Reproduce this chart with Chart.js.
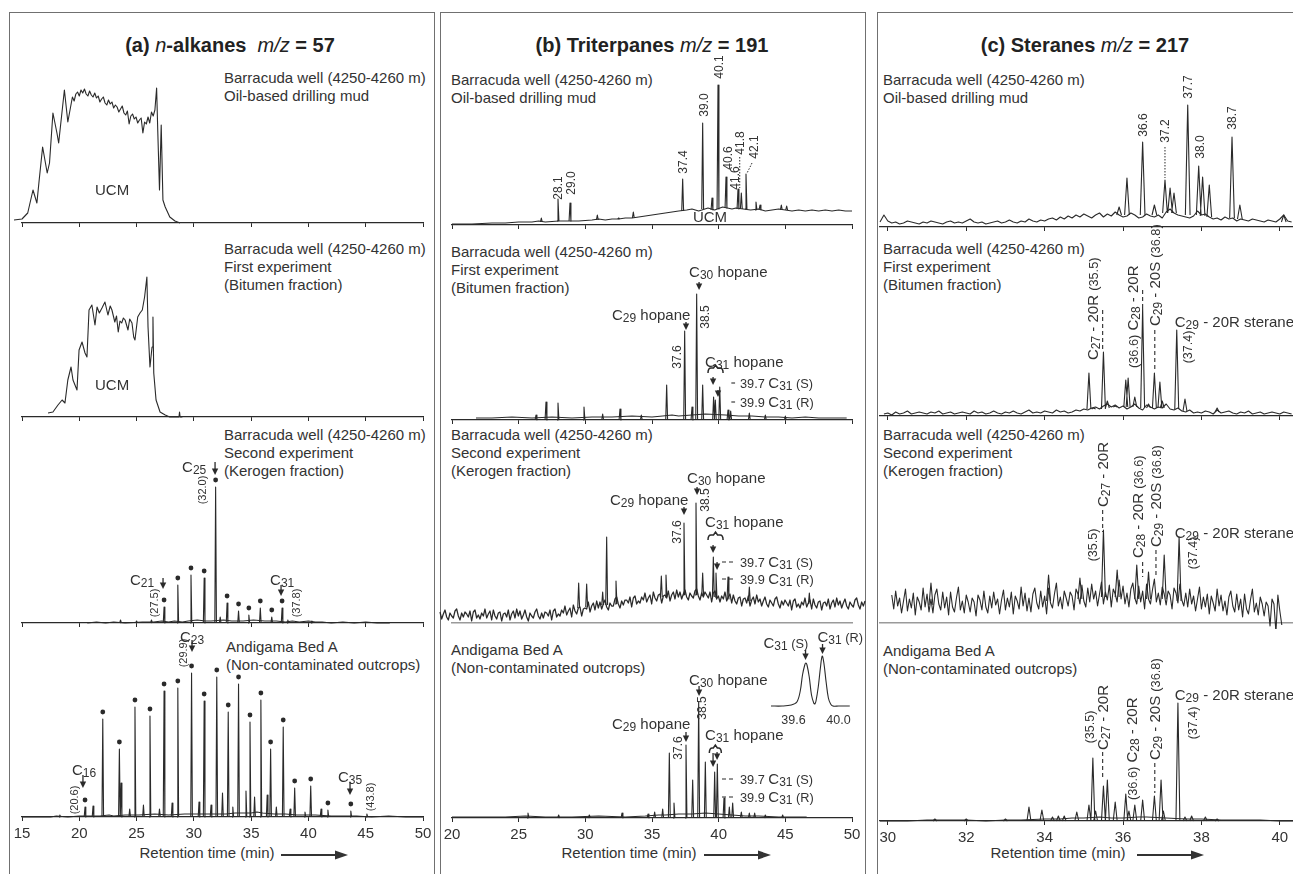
<!DOCTYPE html>
<html><head><meta charset="utf-8">
<script src="https://cdn.jsdelivr.net/npm/chart.js@4.4.1/dist/chart.umd.min.js"></script>
<style>
html,body{margin:0;padding:0;background:#fff}
body{width:1293px;height:874px;position:relative;overflow:hidden;font-family:"Liberation Sans",Arial,sans-serif;color:#333}
.panel{position:absolute;top:12px;height:900px;border:1.5px solid #707070;box-sizing:border-box}
.title{position:absolute;top:33px;font-size:20px;line-height:24px;white-space:nowrap;transform:translateX(-50%);color:#222}
.desc{position:absolute;font-size:15px;line-height:18px;white-space:nowrap;color:#333}
.xt{position:absolute;top:844px;font-size:15px;line-height:18px;white-space:nowrap;transform:translateX(-50%);color:#333}
svg.arr{position:absolute;top:850px}
canvas{position:absolute}
</style></head><body>
<div class="panel" style="left:9px;width:426px"></div>
<div class="panel" style="left:440px;width:426px"></div>
<div class="panel" style="left:877px;width:430px"></div>

<div class="title" style="left:230px"><b>(a)</b> <i>n</i><b>-alkanes</b>&nbsp; <i>m/z</i> <b>= 57</b></div>
<div class="title" style="left:652px"><b>(b) Triterpanes</b> <i>m/z</i> <b>= 191</b></div>
<div class="title" style="left:1085px"><b>(c) Steranes</b> <i>m/z</i> <b>= 217</b></div>

<div class="desc" style="left:224px;top:69px">Barracuda well (4250-4260 m)<br>Oil-based drilling mud</div>
<div class="desc" style="left:224px;top:240px">Barracuda well (4250-4260 m)<br>First experiment<br>(Bitumen fraction)</div>
<div class="desc" style="left:224px;top:426px">Barracuda well (4250-4260 m)<br>Second experiment<br>(Kerogen fraction)</div>
<div class="desc" style="left:226px;top:638px">Andigama Bed A<br>(Non-contaminated outcrops)</div>

<div class="desc" style="left:451px;top:71px">Barracuda well (4250-4260 m)<br>Oil-based drilling mud</div>
<div class="desc" style="left:451px;top:243px">Barracuda well (4250-4260 m)<br>First experiment<br>(Bitumen fraction)</div>
<div class="desc" style="left:451px;top:426px">Barracuda well (4250-4260 m)<br>Second experiment<br>(Kerogen fraction)</div>
<div class="desc" style="left:451px;top:641px">Andigama Bed A<br>(Non-contaminated outcrops)</div>

<div class="desc" style="left:883px;top:71px">Barracuda well (4250-4260 m)<br>Oil-based drilling mud</div>
<div class="desc" style="left:883px;top:240px">Barracuda well (4250-4260 m)<br>First experiment<br>(Bitumen fraction)</div>
<div class="desc" style="left:883px;top:426px">Barracuda well (4250-4260 m)<br>Second experiment<br>(Kerogen fraction)</div>
<div class="desc" style="left:883px;top:642px">Andigama Bed A<br>(Non-contaminated outcrops)</div>

<div class="xt" style="left:207px">Retention time (min)</div>
<div class="xt" style="left:629px">Retention time (min)</div>
<div class="xt" style="left:1058px">Retention time (min)</div>
<svg class="arr" style="left:281px" width="68" height="10"><line x1="0" y1="5" x2="56" y2="5" stroke="#333" stroke-width="2"/><polygon points="54,0.5 67,5 54,9.5" fill="#333"/></svg>
<svg class="arr" style="left:704px" width="68" height="10"><line x1="0" y1="5" x2="56" y2="5" stroke="#333" stroke-width="2"/><polygon points="54,0.5 67,5 54,9.5" fill="#333"/></svg>
<svg class="arr" style="left:1137px" width="68" height="10"><line x1="0" y1="5" x2="56" y2="5" stroke="#333" stroke-width="2"/><polygon points="54,0.5 67,5 54,9.5" fill="#333"/></svg>

<script>
// ================= DATA =================
// ---- Panel (a) n-alkanes m/z 57 ----
const aTicks = [15, 20, 25, 30, 35, 40, 45, 50];
const aMudTime = [14.3,15.0,15.5,15.96,16.3,16.5,16.8,17.2,17.4,17.7,18.05,18.2,18.7,19.0,19.4,19.55,19.7,19.85,20.0,20.15,20.3,20.45,20.6,20.75,20.9,21.05,21.2,21.35,21.5,21.65,21.8,21.95,22.1,22.25,22.4,22.55,22.7,22.85,23.0,23.15,23.3,23.45,23.6,23.75,23.9,24.05,24.2,24.35,24.5,24.65,24.8,24.95,25.1,25.25,25.4,25.55,25.7,25.85,26.0,26.15,26.3,26.45,26.6,26.75,26.85,27.0,27.15,27.3,27.5,27.9,28.35,28.8];
const aMudSignal = [3,4,10,33,20,43,76,50,60,110,90,80,133,101,126,122,129,131,127,133,130,134,129,127,132,128,126,130,125,127,121,124,126,120,118,123,119,121,115,118,116,111,114,117,110,108,112,99,107,109,104,106,100,103,105,90,101,99,106,100,111,107,113,135,92,33,98,23,16,6,2,0];

const aBitTime = [17.27,17.7,18.14,18.5,18.75,19.0,19.28,19.45,19.8,19.98,20.24,20.5,20.67,20.85,21.1,21.37,21.55,21.75,21.98,22.24,22.5,22.7,22.85,23.1,23.25,23.4,23.55,23.7,23.85,24.0,24.25,24.4,24.6,24.75,24.86,25.1,25.3,25.5,25.7,25.9,26.0,26.17,26.35,26.43,26.5,26.7,27.05,27.5,27.9,28.7,28.75,28.8,29.0];
const aBitSignal = [4,5,12,17,14,37,50,37,27,67,75,64,60,107,112,92,110,104,109,115,102,111,107,95,101,85,96,94,99,97,87,98,94,80,77,100,104,107,120,140,90,50,70,100,44,17,5,2,0,0,5,0,0];

const aKerBaseTime = [20.7,21.5,22.3,23.0,24.0,25.5,26.5,27.2,27.8,28.3,29.0,29.5,30.3,31.0,31.5,32.6,33.3,34.3,35.2,36.2,37.2,38.0,38.6,39.2,40.0,40.6,41.2,42.0,43.0,44.0,45.0,46.0,47.1];
const aKerBaseSignal = [0,1,0,1,0,1,1,2,1,2,1,2,3,2,2,3,2,2,3,2,2,1,2,1,2,1,1,0,1,0,1,0,0];
const aKerPeakTime = [23.6,25.0,26.3,27.4,28.6,29.75,30.9,31.9,32.3,32.9,33.9,34.8,35.8,36.8,37.7,38.2,40.3];
const aKerPeakHeight = [3,2,3,16,38,48,45,136,6,20,12,8,15,6,15,3,2];
const aKerAlkaneTime = [27.4,28.6,29.75,30.9,31.9,32.9,33.9,34.8,35.8,36.8,37.7];
const aKerAlkaneHeight = [16,38,48,45,136,20,12,8,15,6,15];

const aOutBaseTime = [15,17.5,18.0,19.0,20.0,21.8,22.6,23.0,24.0,25.2,26.6,27.8,29.2,30.2,31.2,32.8,33.6,34.3,35.0,35.5,36.0,37.0,38.0,39.0,39.5,40.6,42.0,43.0,44.2,45.5,47.0,48.5,50];
const aOutBaseSignal = [0,0,1,0,1,1,2,1,2,2,3,2,3,3,3,3,4,4,4,5,4,3,3,2,2,2,1,1,1,0,1,0,0];
const aOutPeakTime = [18.3,20.5,21.2,22.05,23.5,23.65,24.4,24.86,25.6,26.17,27.0,27.4,28.1,28.6,29.8,30.45,30.9,31.5,32.0,32.5,33.0,33.4,33.9,34.55,34.9,35.3,35.85,36.4,36.7,37.2,37.8,38.4,38.8,39.7,40.2,41.1,41.7,43.7,45.1];
const aOutPeakHeight = [2,10,11,98,68,34,8,110,12,101,8,126,14,129,144,15,116,12,140,24,105,10,133,26,95,20,117,22,68,10,90,8,29,5,31,8,7,6,3];
const aOutAlkaneTime = [20.5,22.05,23.5,24.86,26.17,27.4,28.6,29.8,30.9,32.0,33.0,33.9,34.9,35.85,36.7,37.8,38.8,40.2,41.7,43.7];
const aOutAlkaneHeight = [10,98,68,110,101,126,129,144,116,140,105,133,95,117,68,90,29,31,7,6];

// ---- Panel (b) triterpanes m/z 191 ----
const bTicks = [20, 25, 30, 35, 40, 45, 50];
const bMudBaseTime = [20.0,21.5,23.0,24.0,25.0,26.0,26.5,27.0,28.0,29.5,30.5,31.0,31.5,32.0,32.5,33.0,33.5,34.0,34.5,35.0,35.5,36.0,36.5,37.0,37.6,38.0,38.5,39.2,39.7,40.3,41.0,41.3,42.4,43.0,43.5,44.0,44.5,45.0,45.5,46.0,46.5,47.0,47.5,48.0,48.5,49.0,49.5,50.0];
const bMudBaseSignal = [1,1,2,2,3,3,4,3,4,4,5,6,5,6,6,7,7,8,9,10,11,12,13,14,15,16,14,17,15,18,16,17,15,16,14,15,16,15,14,15,14,15,14,15,14,15,14,14];
const bMudPeakTime = [26.7,27.95,28.85,30.9,32.5,33.6,37.3,38.8,39.5,39.95,40.55,41.45,41.7,42.05,42.8,43.1,44.7,45.1];
const bMudPeakHeight = [7,26,22,10,7,13,46,102,27,140,48,36,32,51,23,20,20,19];
const bMudPeakBase = [3,4,4,5,6,7,14,16,15,16,17,16,16,16,15,15,15,15];

const bBitBaseTime = [21.8,23.0,24.5,26.0,27.5,29.0,30.5,32.0,33.5,35.0,35.8,36.5,37.0,38.0,39.0,40.5,41.5,42.5,43.5,44.5,45.5,46.5,47.5,48.5,49.6];
const bBitBaseSignal = [2,2,3,2,3,2,3,3,4,3,4,5,4,5,6,5,4,4,3,3,2,3,2,2,2];
const bBitPeakTime = [26.3,27.05,27.95,29.9,31.3,32.6,34.2,36.1,37.45,38.0,38.35,38.8,39.62,39.75,40.08,40.7,40.9,42.3,43.5,45.0];
const bBitPeakHeight = [5,18,17,13,6,11,5,35,89,13,126,35,23,20,33,10,9,7,5,4];

const bKerStart = 19.1, bKerStep = 0.125;
const bKerSignal = [
  11,4,9,13,6,3,10,7,  5,12,14,7,3,10,6,11,  9,6,12,2,11,13,5,8,  4,10,7,14,5,9,12,3,
  13,7,4,10,11,2,9,10,  6,13,3,9,12,5,14,7,  12,4,8,13,6,2,10,7,  5,11,14,7,4,10,5,11,
  10,7,13,3,12,14,6,9,  7,13,10,17,8,12,15,6,  18,12,9,15,16,7,14,15,  14,21,11,17,20,13,22,15,
  21,14,19,23,16,13,20,17,  17,24,26,19,15,22,18,23,  23,20,26,16,25,27,19,22,  20,26,23,30,21,25,28,19,
  31,25,22,28,29,20,27,28,  25,32,22,28,31,24,33,26,  31,24,29,33,26,23,30,27,  25,32,34,27,23,30,26,31,
  28,25,31,21,30,32,24,27,  21,27,24,31,22,26,29,20,  28,22,19,25,26,17,24,25,  20,27,17,23,26,19,28,21,
  24,17,22,26,19,16,23,20,  17,24,26,19,15,22,18,23,  20,17,23,13,22,24,16,19,  15,21,18,25,16,20,23,14,
  24,18,15,21,22,13,20,21,  17,24,14,20,23,16,25,18,  22,15,20,24,17,14,21,18,  16,23,25,18,14,21,17,22];
const bKerPeakTime = [29.5,30.1,31.3,31.6,32.3,35.7,36.05,37.4,38.3,38.8,39.6,39.8,40.7,42.3,46.8];
const bKerPeakHeight = [40,39,31,86,42,47,48,100,120,50,66,50,46,36,30];
const bKerPeakBase = [15,16,18,18,19,26,26,28,28,27,26,26,24,22,19];

const bOutBaseTime = [20.0,22.0,24.0,25.5,27.0,29.0,31.0,33.0,34.5,35.5,36.0,37.0,38.0,39.0,40.0,41.0,42.0,43.0,44.5,46.6];
const bOutBaseSignal = [1,1,1,2,1,1,2,1,2,3,3,4,4,5,4,3,2,2,1,1];
const bOutPeakTime = [25.7,28.0,30.3,32.75,34.7,35.2,35.8,36.3,36.65,37.55,38.05,38.5,39.0,39.7,39.9,40.4,40.8,41.05,41.7,42.3,42.7,43.5,44.8];
const bOutPeakHeight = [5,3,3,5,4,6,9,65,15,73,38,116,56,46,54,20,11,15,6,5,5,3,3];

const insetTicks = [39.6, 40.0];
const insetTime = [39.40,39.50,39.58,39.63,39.66,39.68,39.70,39.71,39.72,39.74,39.76,39.78,39.79,39.80,39.82,39.84,39.855,39.87,39.89,39.91,39.93,39.95,40.0,40.1];
const insetSignal = [1,1,2,5,16,32,42,44,42,30,12,4,3,6,20,40,51,44,25,9,3,1,1,1];

// ---- Panel (c) steranes m/z 217 ----
const cTicks = [30, 32, 34, 36, 38, 40];
const cMudStart = 29.8, cMudStep = 0.1;
const cMudSignal = [5,12,6,4,5,3,4,6,5,4, 3,5,4,6,5,4,3,5,6,4, 5,4,6,8,5,4,5,3,4,5, 6,4,5,7,5,4,6,5,8,6,
  5,7,6,8,9,7,10,8,11,9, 12,10,13,11,9,12,14,10,13,11, 15,12,10,11,14,12,9,10,13,11, 10,12,9,15,18,14,12,11,10,9,
  11,16,12,13,10,8,9,7,10,8, 9,6,8,7,6,8,7,6,5,7, 6,5,8,12,6,5];
const cMudPeakTime = [35.9,36.1,36.5,36.8,37.07,37.2,37.3,37.65,37.93,38.03,38.2,38.78,38.98,40.1];
const cMudPeakHeight = [20,49,85,22,47,39,34,122,61,50,42,90,22,12];
const cMudPeakBase = [12,12,12,12,14,14,14,12,12,11,10,9,8,5];

const cBitStart = 29.9, cBitStep = 0.1;
const cBitSignal = [2,3,1,4,2,3,5,2,3,4, 3,2,4,3,5,2,3,4,2,3, 4,3,2,5,3,4,2,3,5,3, 2,4,3,5,3,2,4,6,3,4,
  3,5,4,3,6,4,5,3,4,6, 5,7,6,8,9,7,10,12,9,11, 8,10,7,9,12,8,6,11,9,7, 9,8,12,7,6,8,5,4,6,3,
  4,3,5,4,2,6,3,4,5,3, 2,4,3,5,2,3,4,2,3,4, 3,2,4,3,2];
const cBitPeakTime = [35.13,35.25,35.5,35.6,35.8,36.07,36.13,36.3,36.5,36.65,36.8,36.94,37.0,37.37,37.58,38.4];
const cBitPeakHeight = [43,8,64,15,10,36,38,19,108,12,43,34,15,86,17,8];
const cBitPeakBase = [7,7,7,8,9,9,9,9,8,8,8,8,8,7,5,4];

const cKerStart = 30.1, cKerStep = 0.05;
const cKerSignal = [
  28,14,32,17,25,10,22,34,12,24,  15,30,8,26,21,13,35,16,29,11,  24,10,28,34,19,13,31,15,26,8,  31,16,11,25,36,13,22,10,28,21,
  11,25,21,7,28,23,13,32,16,10,  27,15,31,18,24,9,23,33,13,25,  16,31,9,27,22,14,36,17,30,12,  25,11,29,35,20,14,32,16,27,9,
  35,20,15,29,40,17,26,14,32,25,  17,31,27,13,34,29,19,38,22,16,  35,21,39,24,32,17,29,41,19,31,  23,38,16,34,29,21,43,24,37,19,
  30,16,34,40,25,19,37,21,32,14,  39,24,19,33,44,21,30,18,36,29,  18,32,28,14,35,30,20,39,23,17,  30,16,34,19,27,12,24,36,14,26,
  16,29,9,27,20,12,34,17,28,12,  22,8,26,32,17,11,29,13,24,6,  29,14,9,23,34,11,20,8,26,19,  7,21,17,-3,24,19,-9,28,12,-2];
const cKerPeakTime = [31.1,34.1,34.9,35.5,35.85,36.35,36.65,37.05,37.43];
const cKerPeakHeight = [40,48,45,93,53,58,51,68,86];
const cKerPeakBase = [18,22,24,26,26,24,24,24,22];

const cOutBaseTime = [29.8,30.5,31.0,31.5,32.0,32.5,33.0,33.4,34.0,34.4,34.7,35.0,35.4,35.7,36.0,36.4,36.6,37.1,37.6,38.0,38.5,39.0,39.5,40.0,40.4];
const cOutBaseSignal = [0,0,1,1,1,0,1,1,2,2,3,3,4,3,3,4,4,3,2,2,1,1,1,0,0];
const cOutPeakTime = [31.2,32.0,33.0,33.6,33.93,34.2,34.35,34.5,34.82,35.13,35.23,35.3,35.5,35.6,35.8,36.07,36.15,36.3,36.5,36.8,36.97,37.03,37.4,37.58,37.75,38.1,38.4];
const cOutPeakHeight = [2,2,2,14,11,4,5,5,9,16,63,10,35,41,19,27,10,16,21,25,41,10,118,4,5,4,2];

// ================= DRAWING =================
const FONT = '"Liberation Sans", Arial, sans-serif';
const INK = '#2a2a2a', TXT = '#333', GREY_AXIS = '#9a9a9a';
const PADX = 18, PADT = 60, DOT_GAP = 7;
Chart.defaults.font.family = FONT;
const fnt = sz => sz + 'px ' + FONT;

const pairs = (t, v) => t.map((x, i) => ({x, y: v[i]}));
const sampled = (start, step, v) => v.map((y, i) => ({x: +(start + i * step).toFixed(3), y}));
function spikes(times, heights, bases, hw) {
  const out = [];
  times.forEach((t, i) => {
    const b = bases ? bases[i] : 0;
    out.push({x: t - hw, y: b}, {x: t, y: heights[i]}, {x: t + hw, y: b}, {x: t + hw, y: null});
  });
  return out;
}
const trace = (data, extra) => Object.assign({data}, extra || {});
const dots = (t, h) => ({data: t.map((x, i) => ({x, y: h[i] + DOT_GAP})), showLine: false,
  pointRadius: 2.4, pointBackgroundColor: INK, pointBorderWidth: 0});

function richSegs(s, size) {
  const out = []; const re = /(_|~)\{([^}]*)\}/g; let last = 0, m;
  while ((m = re.exec(s))) {
    if (m.index > last) out.push({t: s.slice(last, m.index), sz: size, dy: 0});
    out.push(m[1] === '_' ? {t: m[2], sz: size * 0.8, dy: size * 0.1} : {t: m[2], sz: size * 0.85, dy: 0});
    last = re.lastIndex;
  }
  if (last < s.length) out.push({t: s.slice(last), sz: size, dy: 0});
  return out;
}
function drawRich(ctx, s, size, x, y, align) {
  const segs = richSegs(s, size); let w = 0;
  segs.forEach(g => { ctx.font = fnt(g.sz); g.w = ctx.measureText(g.t).width; w += g.w; });
  let cx = align === 'center' ? x - w / 2 : x;
  const by = y + size * 0.36;
  ctx.textBaseline = 'alphabetic'; ctx.textAlign = 'left';
  segs.forEach(g => { ctx.font = fnt(g.sz); ctx.fillText(g.t, cx, by + g.dy); cx += g.w; });
}
function notesPlugin(notes) {
  return {
    id: 'notes',
    afterDatasetsDraw(chart) {
      const ctx = chart.ctx, xs = chart.scales.x, ys = chart.scales.y;
      const X = v => xs.getPixelForValue(v), Y = v => ys.getPixelForValue(v);
      ctx.save();
      ctx.fillStyle = TXT; ctx.strokeStyle = INK; ctx.lineCap = 'butt';
      notes.forEach(n => {
        if (n.t === 'text') {
          const size = n.size || 15;
          if (n.rot) {
            ctx.save(); ctx.translate(X(n.x), Y(n.y)); ctx.rotate(-Math.PI / 2);
            drawRich(ctx, n.s, size, 0, 0, n.align || 'left'); ctx.restore();
          } else drawRich(ctx, n.s, size, X(n.x), Y(n.y), n.align || 'left');
        } else if (n.t === 'arrow') {
          const px = X(n.x), y1 = Y(n.y1), y2 = Y(n.y2);
          ctx.lineWidth = 1.3; ctx.setLineDash([]);
          ctx.beginPath(); ctx.moveTo(px, y1); ctx.lineTo(px, y2 - 5); ctx.stroke();
          ctx.fillStyle = INK; ctx.beginPath(); ctx.moveTo(px - 3.2, y2 - 6.5); ctx.lineTo(px + 3.2, y2 - 6.5); ctx.lineTo(px, y2); ctx.closePath(); ctx.fill();
          ctx.fillStyle = TXT;
        } else if (n.t === 'dash') {
          ctx.lineWidth = n.w || 1.1; ctx.setLineDash(n.pat || [4, 3]);
          ctx.beginPath(); ctx.moveTo(X(n.x1), Y(n.y1)); ctx.lineTo(X(n.x2), Y(n.y2)); ctx.stroke();
          ctx.setLineDash([]);
        } else if (n.t === 'brace') {
          const p1 = X(n.x1), p2 = X(n.x2), pm = (p1 + p2) / 2, py = Y(n.y);
          ctx.lineWidth = 1.5; ctx.setLineDash([]);
          ctx.beginPath(); ctx.moveTo(p1, py + 5); ctx.quadraticCurveTo(p1, py, p1 + 3, py);
          ctx.lineTo(pm - 2, py); ctx.lineTo(pm, py - 3); ctx.lineTo(pm + 2, py); ctx.lineTo(p2 - 3, py);
          ctx.quadraticCurveTo(p2, py, p2, py + 5); ctx.stroke();
        }
      });
      ctx.restore();
    }
  };
}

function makeChart(spec) {
  const cv = document.createElement('canvas');
  const axH = spec.axH || 6;
  const plotH = spec.basePx - spec.topPx;
  const w = Math.round((spec.x1 - spec.x0) + 2 * PADX);
  const h = plotH + PADT + axH;
  cv.width = w; cv.height = h;
  cv.style.left = (spec.x0 - PADX) + 'px';
  cv.style.top = (spec.topPx - PADT) + 'px';
  cv.style.width = w + 'px'; cv.style.height = h + 'px';
  document.body.appendChild(cv);
  const datasets = spec.series.map(s => Object.assign({
    type: 'line', borderColor: INK, borderWidth: 1.1, pointRadius: 0, tension: 0, clip: false,
    spanGaps: false, fill: false, borderJoinStyle: 'round'
  }, s));
  const axisColor = spec.axisColor || INK;
  new Chart(cv, {
    type: 'line',
    data: {datasets},
    options: {
      responsive: false, animation: false, events: [],
      layout: {padding: {left: PADX, right: (w - PADX) - (spec.x1 - spec.x0), top: PADT, bottom: 0}},
      plugins: {legend: {display: false}, tooltip: {enabled: false}},
      scales: {
        x: {
          type: 'linear', bounds: 'data',
          afterDataLimits: s => { s.min = spec.xmin; s.max = spec.xmax; },
          afterBuildTicks: s => { s.ticks = spec.ticks.map(v => ({value: v})); },
          afterFit: s => { s.height = axH; },
          grid: {display: spec.tickMarks !== false, drawOnChartArea: false, drawTicks: true, tickLength: 4, color: axisColor, lineWidth: 1},
          border: {display: spec.axisLine !== false, color: axisColor, width: spec.axisWidth || 1.2},
          ticks: {display: !!spec.labels, font: {size: spec.labelSize || 15, family: FONT}, color: TXT,
            padding: spec.labelPad != null ? spec.labelPad : 4, maxRotation: 0, minRotation: 0, autoSkip: false,
            callback: spec.fmt || (v => v)}
        },
        y: {display: false, min: 0, max: plotH}
      }
    },
    plugins: [notesPlugin(spec.notes || [])]
  });
}

const hopaneNotes = (c30, c29, n385, n376, c31, brace, arrS, arrR, sY, rY, dashFrom) => [
  {t: 'text', x: c30[0], y: c30[1], s: 'C_{30} hopane'},
  {t: 'arrow', x: c30[2], y1: c30[3], y2: c30[4]},
  {t: 'text', x: c29[0], y: c29[1], s: 'C_{29} hopane'},
  {t: 'arrow', x: c29[2], y1: c29[3], y2: c29[4]},
  {t: 'text', x: n385[0], y: n385[1], s: '38.5', size: 12, rot: true, align: 'center'},
  {t: 'text', x: n376[0], y: n376[1], s: '37.6', size: 12, rot: true, align: 'center'},
  {t: 'text', x: c31[0], y: c31[1], s: 'C_{31} hopane'},
  {t: 'brace', x1: brace[0], x2: brace[1], y: brace[2]},
  {t: 'arrow', x: arrS[0], y1: arrS[1], y2: arrS[2]},
  {t: 'arrow', x: arrR[0], y1: arrR[1], y2: arrR[2]},
  {t: 'dash', x1: dashFrom, y1: sY, x2: 41.23, y2: sY},
  {t: 'text', x: 41.6, y: sY, s: '~{39.7 }C_{31}~{ (S)}'},
  {t: 'dash', x1: dashFrom, y1: rY, x2: 41.23, y2: rY},
  {t: 'text', x: 41.6, y: rY, s: '~{39.9 }C_{31}~{ (R)}'}
];

const A = {x0: 22, x1: 423, xmin: 15, xmax: 50, ticks: aTicks};
const B = {x0: 452, x1: 852, xmin: 20, xmax: 50, ticks: bTicks};
const C = {x0: 880.16, x1: 1295.68, xmin: 29.8, xmax: 40.4, ticks: cTicks};

const specs = [
  // ---- (a) ----
  Object.assign({}, A, {topPx: 60, basePx: 223, series: [trace(pairs(aMudTime, aMudSignal))],
    notes: [{t: 'text', x: 22.86, y: 33, s: 'UCM', align: 'center'}]}),
  Object.assign({}, A, {topPx: 250, basePx: 417, series: [trace(pairs(aBitTime, aBitSignal))],
    notes: [{t: 'text', x: 22.86, y: 32, s: 'UCM', align: 'center'}]}),
  Object.assign({}, A, {topPx: 440, basePx: 623, series: [
      trace(pairs(aKerBaseTime, aKerBaseSignal)),
      trace(spikes(aKerPeakTime, aKerPeakHeight, null, 0.07)),
      dots(aKerAlkaneTime, aKerAlkaneHeight)],
    notes: [
      {t: 'text', x: 24.43, y: 43, s: 'C_{21}'}, {t: 'arrow', x: 27.31, y1: 45, y2: 34},
      {t: 'text', x: 26.52, y: 20, s: '(27.5)', size: 11, rot: true, align: 'center'},
      {t: 'text', x: 28.97, y: 156, s: 'C_{25}'}, {t: 'arrow', x: 31.85, y1: 161, y2: 148},
      {t: 'text', x: 30.71, y: 133, s: '(32.0)', size: 11, rot: true, align: 'center'},
      {t: 'text', x: 36.65, y: 43, s: 'C_{31}'}, {t: 'arrow', x: 37.61, y1: 38, y2: 27},
      {t: 'text', x: 38.92, y: 20, s: '(37.8)', size: 11, rot: true, align: 'center'}]}),
  Object.assign({}, A, {topPx: 630, basePx: 817, axH: 40, labels: true, series: [
      trace(pairs(aOutBaseTime, aOutBaseSignal)),
      trace(spikes(aOutPeakTime, aOutPeakHeight, null, 0.07)),
      dots(aOutAlkaneTime, aOutAlkaneHeight)],
    notes: [
      {t: 'text', x: 28.79, y: 180, s: 'C_{23}'}, {t: 'arrow', x: 29.84, y1: 177, y2: 165},
      {t: 'text', x: 29.05, y: 164, s: '(29.9)', size: 11, rot: true, align: 'center'},
      {t: 'text', x: 19.36, y: 47, s: 'C_{16}'}, {t: 'arrow', x: 20.32, y1: 42, y2: 29},
      {t: 'text', x: 19.54, y: 17, s: '(20.6)', size: 11, rot: true, align: 'center'},
      {t: 'text', x: 42.58, y: 40, s: 'C_{35}'}, {t: 'arrow', x: 43.63, y1: 35, y2: 22},
      {t: 'text', x: 45.37, y: 20, s: '(43.8)', size: 11, rot: true, align: 'center'}]}),
  // ---- (b) ----
  Object.assign({}, B, {topPx: 60, basePx: 225, series: [
      trace(pairs(bMudBaseTime, bMudBaseSignal)),
      trace(spikes(bMudPeakTime, bMudPeakHeight, bMudPeakBase, 0.07))],
    notes: [
      {t: 'text', x: 27.95, y: 37, s: '28.1', size: 12, rot: true, align: 'center'},
      {t: 'text', x: 28.93, y: 42, s: '29.0', size: 12, rot: true, align: 'center'},
      {t: 'text', x: 37.33, y: 63, s: '37.4', size: 12, rot: true, align: 'center'},
      {t: 'text', x: 38.9, y: 120, s: '39.0', size: 12, rot: true, align: 'center'},
      {t: 'text', x: 40.03, y: 158, s: '40.1', size: 12, rot: true, align: 'center'},
      {t: 'text', x: 40.7, y: 67, s: '40.6', size: 12, rot: true, align: 'center'},
      {t: 'text', x: 41.23, y: 47, s: '41.6', size: 12, rot: true, align: 'center'},
      {t: 'text', x: 41.6, y: 82, s: '41.8', size: 12, rot: true, align: 'center'},
      {t: 'text', x: 42.65, y: 78, s: '42.1', size: 12, rot: true, align: 'center'},
      {t: 'dash', x1: 41.58, y1: 68, x2: 41.58, y2: 37, pat: [1.5, 1.5], w: 1},
      {t: 'dash', x1: 42.5, y1: 62, x2: 42.13, y2: 52, pat: [1.5, 1.5], w: 1},
      {t: 'text', x: 39.35, y: 8, s: 'UCM', align: 'center'}]}),
  Object.assign({}, B, {topPx: 250, basePx: 420, series: [
      trace(pairs(bBitBaseTime, bBitBaseSignal)),
      trace(spikes(bBitPeakTime, bBitPeakHeight, null, 0.07))],
    notes: hopaneNotes([37.78, 148, 38.53, 138, 130], [32.0, 105, 37.55, 98, 90], [38.98, 103], [36.88, 63],
      [38.98, 58], [39.2, 40.33, 52], [39.58, 43, 35], [39.95, 30, 23], 37, 18, 40.95)}),
  Object.assign({}, B, {topPx: 440, basePx: 623, axisColor: GREY_AXIS, tickMarks: false, axisWidth: 1.6, series: [
      trace(sampled(bKerStart, bKerStep, bKerSignal), {borderWidth: 1.25}),
      trace(spikes(bKerPeakTime, bKerPeakHeight, bKerPeakBase, 0.07))],
    notes: hopaneNotes([37.63, 145, 38.38, 136, 128], [31.85, 123, 37.4, 116, 108], [38.98, 123], [36.88, 91],
      [38.98, 101], [39.2, 40.33, 88], [39.58, 78, 70], [39.88, 61, 53], 61, 44, 40.25)}),
  Object.assign({}, B, {topPx: 630, basePx: 818, axH: 40, labels: true, series: [
      trace(pairs(bOutBaseTime, bOutBaseSignal)),
      trace(spikes(bOutPeakTime, bOutPeakHeight, null, 0.07))],
    notes: hopaneNotes([37.78, 138, 38.53, 132, 122], [32.0, 94, 37.55, 86, 76], [38.75, 110], [36.95, 70],
      [38.98, 83], [39.3, 40.2, 70], [39.58, 65, 51], [39.88, 66, 58], 39, 21, 40.25)}),
  // inset
  {x0: 770.5, x1: 849.25, xmin: 39.4, xmax: 40.1, ticks: insetTicks, topPx: 650, basePx: 707, axH: 20,
    labels: true, labelSize: 12.5, labelPad: 2, axisLine: false, tickMarks: false, fmt: v => v.toFixed(1),
    series: [trace(pairs(insetTime, insetSignal), {tension: 0.35})],
    notes: [
      {t: 'text', x: 39.333, y: 64, s: 'C_{31}~{ (S)}'}, {t: 'arrow', x: 39.707, y1: 57, y2: 47},
      {t: 'text', x: 39.813, y: 70, s: 'C_{31}~{ (R)}'}, {t: 'arrow', x: 39.858, y1: 63, y2: 53}]},
  // ---- (c) ----
  Object.assign({}, C, {topPx: 60, basePx: 227, series: [
      trace(sampled(cMudStart, cMudStep, cMudSignal)),
      trace(spikes(cMudPeakTime, cMudPeakHeight, cMudPeakBase, 0.06))],
    notes: [
      {t: 'text', x: 36.5, y: 102, s: '36.6', size: 12, rot: true, align: 'center'},
      {t: 'text', x: 37.07, y: 96, s: '37.2', size: 12, rot: true, align: 'center'},
      {t: 'dash', x1: 37.07, y1: 80, x2: 37.07, y2: 49, pat: [1.5, 1.5], w: 1},
      {t: 'text', x: 37.65, y: 140, s: '37.7', size: 12, rot: true, align: 'center'},
      {t: 'text', x: 37.96, y: 80, s: '38.0', size: 12, rot: true, align: 'center'},
      {t: 'text', x: 38.78, y: 109, s: '38.7', size: 12, rot: true, align: 'center'}]}),
  Object.assign({}, C, {topPx: 250, basePx: 416, series: [
      trace(sampled(cBitStart, cBitStep, cBitSignal)),
      trace(spikes(cBitPeakTime, cBitPeakHeight, cBitPeakBase, 0.05))],
    notes: [
      {t: 'text', x: 35.23, y: 56, s: 'C_{27} - 20R ~{(35.5)}', rot: true},
      {t: 'dash', x1: 35.48, y1: 106, x2: 35.48, y2: 66},
      {t: 'text', x: 36.25, y: 48, s: '~{(36.6)} C_{28} - 20R', rot: true},
      {t: 'dash', x1: 36.5, y1: 126, x2: 36.5, y2: 108},
      {t: 'text', x: 36.81, y: 90, s: 'C_{29} - 20S ~{(36.8)}', rot: true},
      {t: 'dash', x1: 36.81, y1: 86, x2: 36.81, y2: 44},
      {t: 'text', x: 37.32, y: 94, s: 'C_{29} - 20R sterane'},
      {t: 'text', x: 37.65, y: 69, s: '(37.4)', size: 12.5, rot: true, align: 'center'}]}),
  Object.assign({}, C, {topPx: 440, basePx: 623, axisColor: GREY_AXIS, tickMarks: false, axisWidth: 1.6, series: [
      trace(sampled(cKerStart, cKerStep, cKerSignal), {borderWidth: 1.1}),
      trace(spikes(cKerPeakTime, cKerPeakHeight, cKerPeakBase, 0.05))],
    notes: [
      {t: 'text', x: 35.23, y: 78, s: '(35.5)', size: 12.5, rot: true, align: 'center'},
      {t: 'text', x: 35.48, y: 116, s: 'C_{27} - 20R', rot: true},
      {t: 'dash', x1: 35.48, y1: 113, x2: 35.48, y2: 91},
      {t: 'text', x: 36.38, y: 65, s: 'C_{28} - 20R ~{(36.6)}', rot: true},
      {t: 'dash', x1: 36.5, y1: 61, x2: 36.5, y2: 46},
      {t: 'text', x: 36.84, y: 76, s: 'C_{29} - 20S ~{(36.8)}', rot: true},
      {t: 'dash', x1: 36.84, y1: 73, x2: 36.84, y2: 46},
      {t: 'text', x: 37.32, y: 90, s: 'C_{29} - 20R sterane'},
      {t: 'text', x: 37.78, y: 70, s: '(37.4)', size: 12.5, rot: true, align: 'center'}]}),
  Object.assign({}, C, {topPx: 630, basePx: 821, axH: 40, labels: true, series: [
      trace(pairs(cOutBaseTime, cOutBaseSignal)),
      trace(spikes(cOutPeakTime, cOutPeakHeight, null, 0.05))],
    notes: [
      {t: 'text', x: 35.15, y: 94, s: '(35.5)', size: 12.5, rot: true, align: 'center'},
      {t: 'text', x: 35.48, y: 71, s: 'C_{27} - 20R', rot: true},
      {t: 'dash', x1: 35.48, y1: 69, x2: 35.48, y2: 44},
      {t: 'text', x: 36.22, y: 21, s: '~{(36.6)} C_{28} - 20R', rot: true},
      {t: 'text', x: 36.81, y: 61, s: 'C_{29} - 20S ~{(36.8)}', rot: true},
      {t: 'dash', x1: 36.81, y1: 58, x2: 36.81, y2: 28},
      {t: 'text', x: 37.32, y: 126, s: 'C_{29} - 20R sterane'},
      {t: 'text', x: 37.76, y: 98, s: '(37.4)', size: 12.5, rot: true, align: 'center'}]})
];
specs.forEach(makeChart);
</script>
</body></html>
